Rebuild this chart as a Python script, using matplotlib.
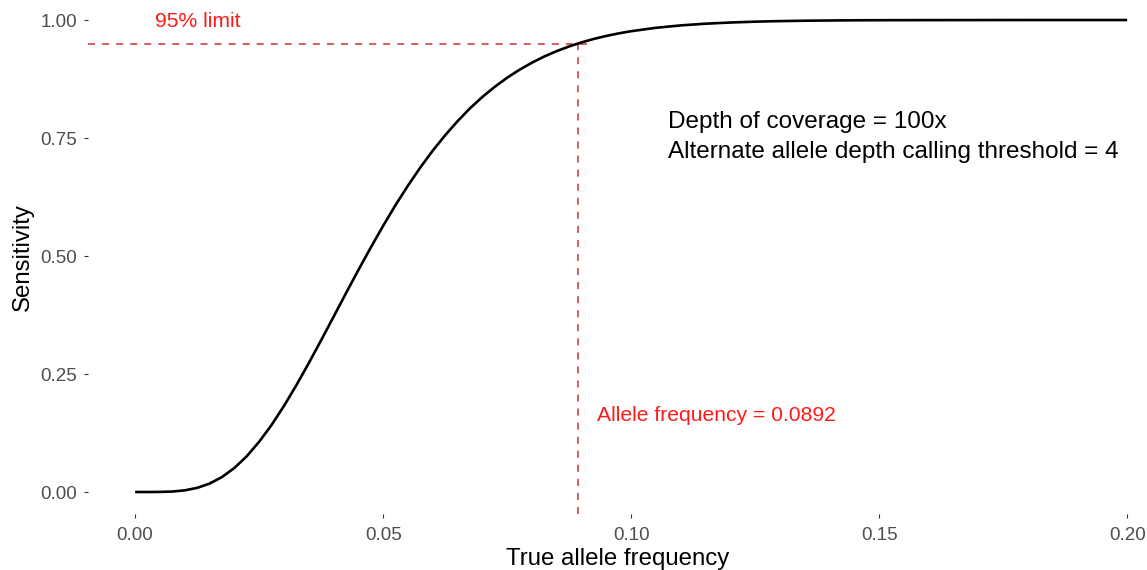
import numpy as np
import matplotlib
matplotlib.use("Agg")
import matplotlib.pyplot as plt

plt.rcParams['font.family'] = ['Liberation Sans', 'DejaVu Sans']

# sensitivity curve (depth 100x, threshold 4)
freq = [0.0, 0.0025, 0.005, 0.0075, 0.01, 0.0125, 0.015, 0.0175, 0.02, 0.0225,
        0.025, 0.0275, 0.03, 0.0325, 0.035, 0.0375, 0.04, 0.0425, 0.045, 0.0475,
        0.05, 0.0525, 0.055, 0.0575, 0.06, 0.0625, 0.065, 0.0675, 0.07, 0.0725,
        0.075, 0.0775, 0.08, 0.0825, 0.085, 0.0875, 0.09, 0.0925, 0.095, 0.0975,
        0.10, 0.105, 0.11, 0.115, 0.12, 0.125, 0.13, 0.135, 0.14, 0.145,
        0.15, 0.16, 0.17, 0.18, 0.19, 0.20]
sens = [0.0, 0.0, 0.0002, 0.0010, 0.0035, 0.0087, 0.0178, 0.0316, 0.0508, 0.0757,
        0.1064, 0.1419, 0.1822, 0.2261, 0.2729, 0.3215, 0.3711, 0.4210, 0.4701, 0.5178,
        0.5639, 0.6079, 0.6491, 0.6876, 0.7232, 0.7558, 0.7856, 0.8129, 0.8369, 0.8584,
        0.8777, 0.8947, 0.9096, 0.9228, 0.9342, 0.9440, 0.9526, 0.9600, 0.9663, 0.9717,
        0.9763, 0.9835, 0.9886, 0.9922, 0.9947, 0.9965, 0.9977, 0.9985, 0.9990, 0.9994,
        0.9996, 0.9998, 0.9999, 1.0, 1.0, 1.0]

limit = 0.95
af_at_limit = 0.0892
xticks = [0.0, 0.05, 0.10, 0.15, 0.20]
xtick_labels = ["0.00", "0.05", "0.10", "0.15", "0.20"]
yticks = [0.0, 0.25, 0.5, 0.75, 1.0]
ytick_labels = ["0.00", "0.25", "0.50", "0.75", "1.00"]

fig = plt.figure(figsize=(11.47, 5.70), dpi=100)
ax = fig.add_axes([88/1147, 56/570, 1059/1147, 514/570])

ax.plot(freq, sens, color='black', lw=1.9, solid_capstyle='butt', zorder=3)

xmin, xmax = -0.0095, 0.2040
ymin, ymax = -0.0466, 1.0424
dash_col = '#cc3333'
ax.plot([xmin, 0.0925], [limit, limit], color=dash_col, lw=1.1, dashes=(4.6, 4.6))
ax.plot([af_at_limit, af_at_limit], [ymin, limit + 0.003], color=dash_col, lw=1.1, dashes=(4.6, 4.6))

ax.text(0.0127, 0.996, "95% limit", color='#ff1a1a', fontsize=15.2, ha='center', va='center')
ax.text(0.0931, 0.163, "Allele frequency = 0.0892", color='#ff1a1a', fontsize=15.2, ha='left', va='center')
ax.text(0.1075, 0.784, "Depth of coverage = 100x", color='black', fontsize=17.5, ha='left', va='center')
ax.text(0.1075, 0.720, "Alternate allele depth calling threshold = 4", color='black', fontsize=17.5, ha='left', va='center')

ax.set_xlim(xmin, xmax)
ax.set_ylim(ymin, ymax)
ax.set_xticks(xticks)
ax.set_xticklabels(xtick_labels)
ax.set_yticks(yticks)
ax.set_yticklabels(ytick_labels)
for s in ax.spines.values():
    s.set_visible(False)
ax.tick_params(axis='both', colors='#333333', labelcolor='#4d4d4d', labelsize=13.5, length=3, width=0.8)
ax.tick_params(axis='x', pad=6)
ax.tick_params(axis='y', pad=5)

ax.set_xlabel("True allele frequency", fontsize=17.3, labelpad=3)
ax.set_ylabel("Sensitivity", fontsize=17.3, labelpad=4.5)

fig.savefig("out.png", dpi=100)
